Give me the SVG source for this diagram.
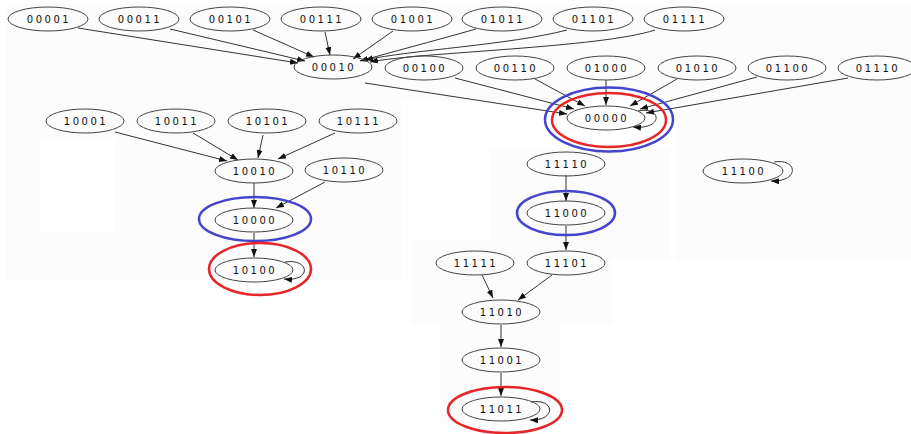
<svg xmlns="http://www.w3.org/2000/svg" width="911" height="434" viewBox="0 0 911 434">
<defs>
<style>
.n ellipse{fill:none;stroke:#444;stroke-width:1}
.n text{font-family:"DejaVu Sans",sans-serif;font-size:10px;letter-spacing:2.5px;fill:#111;text-anchor:middle}
.e path{fill:none;stroke:#333;stroke-width:1;marker-end:url(#ah)}
.n ellipse.red{fill:none;stroke:#e8262a;stroke-width:2.5}
.n ellipse.blue{fill:none;stroke:#4444cc;stroke-width:2.5}
.bg{fill:#fbfcfb}
</style>
<marker id="ah" markerUnits="userSpaceOnUse" markerWidth="9" markerHeight="7" refX="8" refY="3" orient="auto"><path d="M0,0 L8,3 L0,6 z" fill="#111"/></marker>
</defs>
<rect x="0" y="0" width="911" height="434" fill="#ffffff"/>
<rect class="bg" x="6" y="4" width="905" height="96"/>
<rect class="bg" x="6" y="100" width="395" height="180"/>
<rect x="40" y="140" width="75" height="92" fill="#ffffff"/>
<rect class="bg" x="490" y="150" width="180" height="110"/>
<rect class="bg" x="676" y="100" width="235" height="160"/>
<rect class="bg" x="412" y="240" width="200" height="85"/>
<rect class="bg" x="440" y="325" width="120" height="100"/>
<g id="edges" class="e">
<path d="M78,28 L298,63"/>
<path d="M170,29 L305,61"/>
<path d="M253,30 L314,57"/>
<path d="M325,32 L330,55"/>
<path d="M393,31 L353,59"/>
<path d="M476,29 C430,42 392,52 360,61"/>
<path d="M567,30 C510,45 410,50 365,60"/>
<path d="M655,30 C600,48 420,52 370,62"/>
<path d="M365,83 L567,114"/>
<path d="M455,78 L574,109"/>
<path d="M535,79 L585,106"/>
<path d="M606,80 L606,105"/>
<path d="M677,79 L630,106"/>
<path d="M757,77 L640,109"/>
<path d="M848,78 L646,113"/>
<path d="M638,111 C662,106 664,130 633,127"/>
<path d="M115,132 L227,161"/>
<path d="M193,133 L238,160"/>
<path d="M263,135 L258,158"/>
<path d="M335,133 L278,159"/>
<path d="M254,183 L254,208"/>
<path d="M325,182 L276,208"/>
<path d="M254,233 L254,257"/>
<path d="M285,262 C310,258 312,282 284,279"/>
<path d="M566,175 L566,201"/>
<path d="M566,226 L566,250"/>
<path d="M482,275 L493,298"/>
<path d="M552,275 L518,300"/>
<path d="M501,325 L501,347"/>
<path d="M501,373 L501,396"/>
<path d="M531,402 C555,398 557,421 530,420"/>
<path d="M774,162 C798,158 800,182 771,181"/>
</g>
<g id="n00001" class="n"><ellipse cx="48" cy="19" rx="40" ry="12"/><text x="49" y="23">00001</text></g>
<g id="n00011" class="n"><ellipse cx="139" cy="19" rx="40" ry="12"/><text x="140" y="23">00011</text></g>
<g id="n00101" class="n"><ellipse cx="230" cy="19" rx="40" ry="12"/><text x="231" y="23">00101</text></g>
<g id="n00111" class="n"><ellipse cx="321" cy="19" rx="40" ry="12"/><text x="322" y="23">00111</text></g>
<g id="n01001" class="n"><ellipse cx="412" cy="19" rx="40" ry="12"/><text x="413" y="23">01001</text></g>
<g id="n01011" class="n"><ellipse cx="502" cy="19" rx="40" ry="12"/><text x="503" y="23">01011</text></g>
<g id="n01101" class="n"><ellipse cx="593" cy="19" rx="40" ry="12"/><text x="594" y="23">01101</text></g>
<g id="n01111" class="n"><ellipse cx="684" cy="19" rx="40" ry="12"/><text x="685" y="23">01111</text></g>
<g id="n00010" class="n"><ellipse cx="333" cy="67" rx="39" ry="12"/><text x="334" y="71">00010</text></g>
<g id="n00100" class="n"><ellipse cx="424" cy="68" rx="39" ry="12"/><text x="425" y="72">00100</text></g>
<g id="n00110" class="n"><ellipse cx="515" cy="68" rx="39" ry="12"/><text x="516" y="72">00110</text></g>
<g id="n01000" class="n"><ellipse cx="606" cy="68" rx="39" ry="12"/><text x="607" y="72">01000</text></g>
<g id="n01010" class="n"><ellipse cx="697" cy="68" rx="39" ry="12"/><text x="698" y="72">01010</text></g>
<g id="n01100" class="n"><ellipse cx="787" cy="68" rx="39" ry="12"/><text x="788" y="72">01100</text></g>
<g id="n01110" class="n"><ellipse cx="877" cy="68" rx="39" ry="12"/><text x="878" y="72">01110</text></g>
<g id="n00000" class="n"><ellipse cx="606" cy="118" rx="39" ry="12"/><text x="607" y="122">00000</text><ellipse class="red" cx="609" cy="120" rx="57" ry="27"/><ellipse class="blue" cx="609" cy="119.5" rx="64" ry="32"/></g>
<g id="n10001" class="n"><ellipse cx="85" cy="121" rx="39" ry="12"/><text x="86" y="125">10001</text></g>
<g id="n10011" class="n"><ellipse cx="176" cy="121" rx="39" ry="12"/><text x="177" y="125">10011</text></g>
<g id="n10101" class="n"><ellipse cx="267" cy="121" rx="39" ry="12"/><text x="268" y="125">10101</text></g>
<g id="n10111" class="n"><ellipse cx="358" cy="121" rx="39" ry="12"/><text x="359" y="125">10111</text></g>
<g id="n10010" class="n"><ellipse cx="254" cy="171" rx="39" ry="12"/><text x="255" y="175">10010</text></g>
<g id="n10110" class="n"><ellipse cx="344" cy="170" rx="39" ry="12"/><text x="345" y="174">10110</text></g>
<g id="n10000" class="n"><ellipse cx="254" cy="220" rx="39" ry="12"/><text x="255" y="224">10000</text><ellipse class="blue" cx="255" cy="219" rx="56" ry="22"/></g>
<g id="n10100" class="n"><ellipse cx="254" cy="270" rx="39" ry="12"/><text x="255" y="274">10100</text><ellipse class="red" cx="260" cy="269" rx="51" ry="26"/></g>
<g id="n11110" class="n"><ellipse cx="566" cy="164" rx="39" ry="12"/><text x="567" y="168">11110</text></g>
<g id="n11100" class="n"><ellipse cx="743" cy="171" rx="40" ry="12"/><text x="744" y="175">11100</text></g>
<g id="n11000" class="n"><ellipse cx="566" cy="213" rx="39" ry="12"/><text x="567" y="217">11000</text><ellipse class="blue" cx="566" cy="213" rx="49" ry="22"/></g>
<g id="n11111" class="n"><ellipse cx="475" cy="263" rx="39" ry="12"/><text x="476" y="267">11111</text></g>
<g id="n11101" class="n"><ellipse cx="566" cy="263" rx="39" ry="12"/><text x="567" y="267">11101</text></g>
<g id="n11010" class="n"><ellipse cx="501" cy="312" rx="39" ry="12"/><text x="502" y="316">11010</text></g>
<g id="n11001" class="n"><ellipse cx="501" cy="360" rx="39" ry="12"/><text x="502" y="364">11001</text></g>
<g id="n11011" class="n"><ellipse cx="501" cy="409" rx="39" ry="12"/><text x="502" y="413">11011</text><ellipse class="red" cx="505" cy="410" rx="57" ry="23"/></g>
</svg>
